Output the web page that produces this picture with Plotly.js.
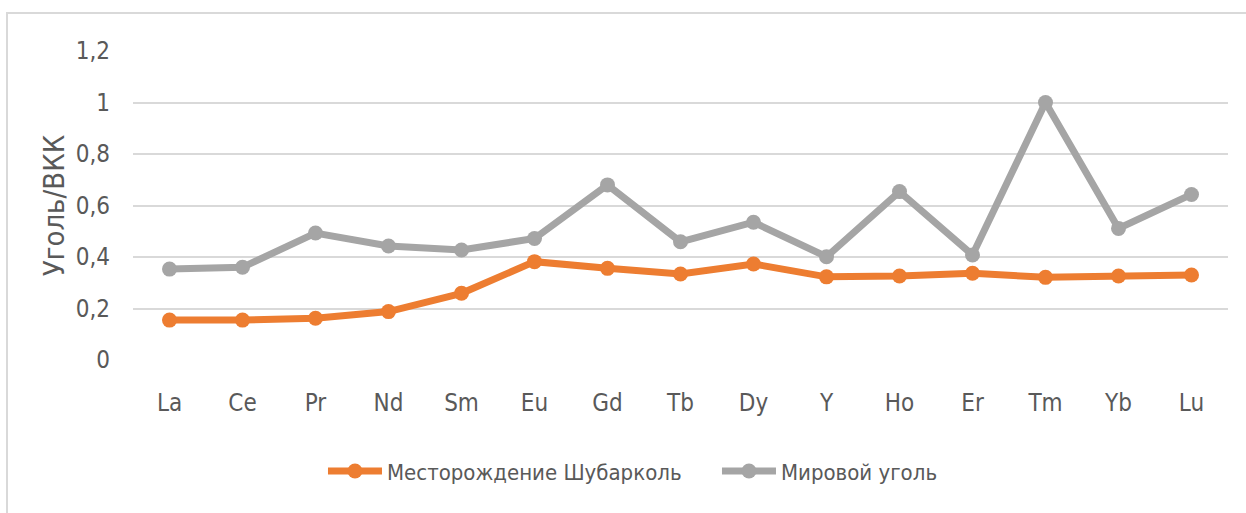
<!DOCTYPE html>
<html>
<head>
<meta charset="utf-8">
<script src="https://cdn.plot.ly/plotly-3.0.1.min.js"></script>
<style>
  html, body { margin: 0; padding: 0; background: #fff; }
  #wrap { position: relative; width: 1246px; height: 513px; overflow: hidden; }
  #frame { position: absolute; left: 6px; top: 12px; width: 1300px; height: 600px; border: 2px solid #D9D9D9; box-sizing: border-box; pointer-events: none; }
  #chart { position: absolute; left: 0; top: 0; width: 1246px; height: 513px; }
</style>
</head>
<body>
<div id="wrap">
  <div id="chart"></div>
  <div id="frame"></div>
</div>
<script>
const categories = ["La","Ce","Pr","Nd","Sm","Eu","Gd","Tb","Dy","Y","Ho","Er","Tm","Yb","Lu"];
const shubarkol = [0.155,0.155,0.162,0.188,0.259,0.382,0.356,0.334,0.373,0.323,0.326,0.337,0.321,0.326,0.330];
const worldCoal = [0.353,0.360,0.493,0.443,0.427,0.472,0.680,0.459,0.535,0.401,0.654,0.408,1.000,0.511,0.643];
const seriesNames = ["Месторождение Шубарколь","Мировой уголь"];
const yTickVals = [0,0.2,0.4,0.6,0.8,1,1.2];
const yTickText = ["0","0,2","0,4","0,6","0,8","1","1,2"];
const yTitle = "Уголь/ВКК";

const FONT = "'DejaVu Sans Condensed', 'Open Sans', sans-serif";
const textColor = "#595959";

const traces = [
  {x: categories, y: shubarkol, name: seriesNames[0], type: "scatter", mode: "lines+markers",
   line: {color: "#ED7D31", width: 7}, marker: {color: "#ED7D31", size: 15}},
  {x: categories, y: worldCoal, name: seriesNames[1], type: "scatter", mode: "lines+markers",
   line: {color: "#A5A5A5", width: 7}, marker: {color: "#A5A5A5", size: 15}}
];

const layout = {
  width: 1246, height: 513,
  margin: {l: 133, r: 18, t: 51, b: 153},
  paper_bgcolor: "rgba(0,0,0,0)", plot_bgcolor: "#fff",
  font: {family: FONT, color: textColor, size: 24},
  showlegend: true,
  legend: {orientation: "h", x: 0.1735, xanchor: "left", y: -0.36, yanchor: "middle",
           font: {family: FONT, size: 22, color: textColor}, itemwidth: 54,
           entrywidth: 325, entrywidthmode: "pixels", tracegroupgap: 0},
  xaxis: {type: "category", showgrid: false, zeroline: false, showline: false,
          ticks: "", ticklabelstandoff: 26, tickfont: {family: FONT, size: 24, color: textColor},
          range: [-0.5, categories.length - 0.5], fixedrange: true},
  yaxis: {range: [0, 1.2], tickvals: yTickVals, ticktext: yTickText,
          showgrid: true, gridcolor: "#D9D9D9", gridwidth: 2, zeroline: false, showline: false,
          ticks: "", ticklabelstandoff: 22, tickfont: {family: FONT, size: 24, color: textColor},
          title: {text: yTitle, font: {family: FONT, size: 29, color: textColor}, standoff: 2},
          fixedrange: true}
};

Plotly.newPlot("chart", traces, layout, {displayModeBar: false, staticPlot: true});
</script>
</body>
</html>
